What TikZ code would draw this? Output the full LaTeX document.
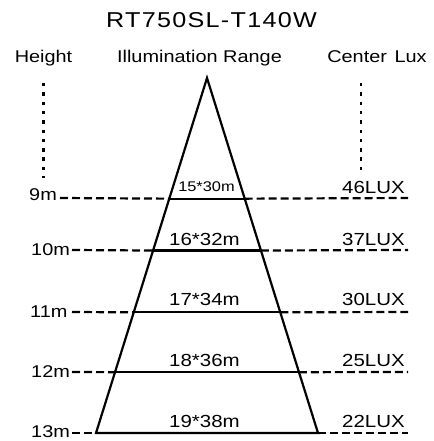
\documentclass[tikz,border=0pt]{standalone}
\usepackage{fontspec}
\setmainfont{Liberation Sans}[FakeStretch=1.17]
\usetikzlibrary{calc}
\begin{document}
\begin{tikzpicture}[x=1pt,y=-1pt,
  edge/.style={line width=2.2pt, line join=miter},
  level/.style={line width=2.2pt, dash pattern=on 8pt off 4pt},
  dotline/.style={line width=2.4pt, dash pattern=on 3.5pt off 5.8pt},
  titletext/.style={font=\fontsize{21.5}{24}\selectfont\addfontfeature{LetterSpace=6}, inner sep=0pt, anchor=base},
  headtext/.style={font=\fontsize{17}{20}\selectfont, inner sep=0pt, anchor=base},
  htext/.style={font=\fontsize{17}{20}\selectfont, inner sep=0pt, anchor=base west},
  rangetext/.style={font=\fontsize{17.5}{20}\selectfont, inner sep=0pt, anchor=base},
  luxtext/.style={font=\fontsize{17.5}{20}\selectfont, inner sep=0pt, anchor=base east}]
\useasboundingbox (0,0) rectangle (433,441);

% headings
\node[titletext] (title) at (211.5,28) {RT750SL-T140W};
\node[headtext] (hHeight) at (43.5,63) {Height};
\node[headtext] (hRange) at (199.5,63) {Illumination Range};
\node[headtext] (hLux) at (377,63) {Center\hspace{0.45em}Lux};

% dotted guides
\coordinate (dlt) at (43.5,83);
\coordinate (dlb) at (43.5,178);
\coordinate (drt) at (361,83);
\coordinate (drb) at (361,174);
\draw[dotline] (dlt) -- (dlb);
\draw[dotline] (drt) -- (drb);

% triangle
\coordinate (apex) at (207,78);
\coordinate (bl) at (96,433);
\coordinate (br) at (318,433);

% level intersections
\coordinate (l9)  at ($(apex)!0.3399!(bl)$);
\coordinate (r9)  at ($(apex)!0.3399!(br)$);
\coordinate (l10) at ($(apex)!0.4860!(bl)$);
\coordinate (r10) at ($(apex)!0.4860!(br)$);
\coordinate (l11) at ($(apex)!0.6601!(bl)$);
\coordinate (r11) at ($(apex)!0.6601!(br)$);
\coordinate (l12) at ($(apex)!0.8287!(bl)$);
\coordinate (r12) at ($(apex)!0.8287!(br)$);

% dashed line ends
\coordinate (a9)  at (60,198);   \coordinate (b9)  at (408,198);
\coordinate (a10) at (72,250);   \coordinate (b10) at (408,250);
\coordinate (a11) at (72,312);   \coordinate (b11) at (408,312);
\coordinate (a12) at (72,372);   \coordinate (b12) at (408,372);
\coordinate (a13) at (72,433);   \coordinate (b13) at (408,433);

\draw[level] (a9) -- (l9);   \draw[level] (r9) -- (b9);
\draw[level] (a10) -- (l10); \draw[level] (r10) -- (b10);
\draw[level] (a11) -- (l11); \draw[level] (r11) -- (b11);
\draw[level] (a12) -- (l12); \draw[level] (r12) -- (b12);
\draw[level] (a13) -- (bl);  \draw[level] (br) -- (b13);

\draw[edge] (l9) -- (r9);
\draw[edge] (l10) -- (r10);
\draw[edge] (l11) -- (r11);
\draw[edge] (l12) -- (r12);
\draw[edge] (bl) -- (apex) -- (br) -- cycle;

% height labels
\node[htext] (m9)  at (29,200) {9m};
\node[htext] (m10) at (31,255) {10m};
\node[htext] (m11) at (30,317) {11m};
\node[htext] (m12) at (31,377) {12m};
\node[htext] (m13) at (31,437) {13m};

% range labels
\node[rangetext, font=\fontsize{14}{16}\selectfont] (s9) at (206.5,191) {15*30m};
\node[rangetext] (s10) at (204.5,245) {16*32m};
\node[rangetext] (s11) at (204.5,305) {17*34m};
\node[rangetext] (s12) at (204.5,366) {18*36m};
\node[rangetext] (s13) at (204.5,427) {19*38m};

% lux labels
\node[luxtext] (x9)  at (405,193) {46LUX};
\node[luxtext] (x10) at (405,245) {37LUX};
\node[luxtext] (x11) at (405,305) {30LUX};
\node[luxtext] (x12) at (405,366) {25LUX};
\node[luxtext] (x13) at (405,427) {22LUX};
\end{tikzpicture}
\end{document}
